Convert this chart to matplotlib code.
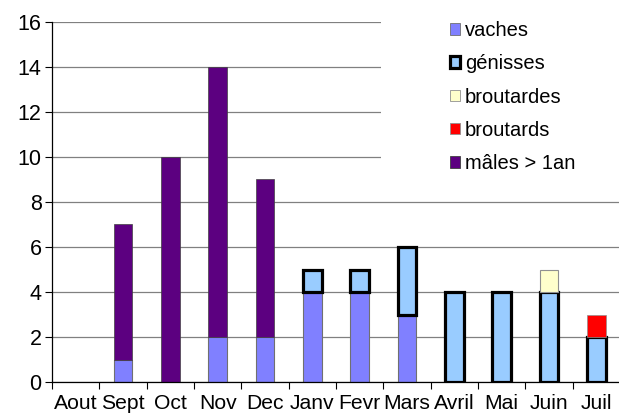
import matplotlib.pyplot as plt
import numpy as np
from matplotlib.patches import Rectangle

plt.rcParams['font.family'] = ['Liberation Sans', 'DejaVu Sans']

mois = ['Aout', 'Sept', 'Oct', 'Nov', 'Dec', 'Janv', 'Fevr', 'Mars',
        'Avril', 'Mai', 'Juin', 'Juil']
vaches = [0, 1, 0, 2, 2, 4, 4, 3, 0, 0, 0, 0]
genisses = [0, 0, 0, 0, 0, 1, 1, 3, 4, 4, 4, 2]
broutardes = [0, 0, 0, 0, 0, 0, 0, 0, 0, 0, 1, 0]
broutards = [0, 0, 0, 0, 0, 0, 0, 0, 0, 0, 0, 1]
males = [0, 6, 10, 12, 7, 0, 0, 0, 0, 0, 0, 0]

series = [
    ('vaches', vaches, '#8080ff', '#707070', 0.8),
    ('génisses', genisses, '#99ccff', 'black', 2.3),
    ('broutardes', broutardes, '#ffffcc', '#909090', 0.8),
    ('broutards', broutards, '#ff0000', '#909090', 0.5),
    ('mâles > 1an', males, '#5c0080', '#404040', 0.5),
]

fig = plt.figure(figsize=[6.19, 4.15], dpi=100)
ax = fig.add_axes([52/619, 1 - 382/415, 568/619, 360/415])

x = np.arange(len(mois))
bottom = np.zeros(len(mois))
handles = []
for nom, vals, fc, ec, lw in series:
    vals = np.array(vals, dtype=float)
    idx = vals > 0
    ax.bar(x[idx], vals[idx], 0.4, bottom=bottom[idx], color=fc,
           edgecolor=ec, linewidth=lw, zorder=2)
    handles.append(Rectangle((0, 0), 1, 1, facecolor=fc, edgecolor=ec,
                             linewidth=lw if lw > 1 else 0.6))
    bottom += vals

ax.set_xlim(-0.5, len(mois) - 0.5)
ax.set_ylim(0, 16)
ax.set_yticks(range(0, 17, 2))
ax.yaxis.grid(True, color='#808080', linewidth=0.9)
ax.set_axisbelow(True)

ax.set_xticks(x)
ax.set_xticklabels(mois)
ax.set_xticks(np.arange(-0.5, len(mois), 1), minor=True)
ax.tick_params(axis='x', which='major', length=0, pad=8.5, labelsize=15.2)
ax.tick_params(axis='x', which='minor', length=5, width=0.8)
ax.tick_params(axis='y', length=5, width=0.8, pad=2.5, labelsize=15.5)

for s in ['top', 'right']:
    ax.spines[s].set_visible(False)
ax.spines['left'].set_linewidth(0.9)
ax.spines['bottom'].set_linewidth(0.9)

# zone blanche derriere la legende
ax.add_patch(Rectangle((0.579, 0.55), 0.5, 0.5, transform=ax.transAxes,
                       facecolor='white', edgecolor='none', zorder=1,
                       clip_on=False))

fig.legend(handles, [s[0] for s in series], loc='upper left',
           bbox_to_anchor=(450/619, 1 - 21/415), frameon=False,
           fontsize=14.5, handlelength=0.5, handleheight=0.5,
           handletextpad=0.25, labelspacing=0.71, borderpad=0,
           borderaxespad=0)

plt.savefig('out.png', dpi=100)
